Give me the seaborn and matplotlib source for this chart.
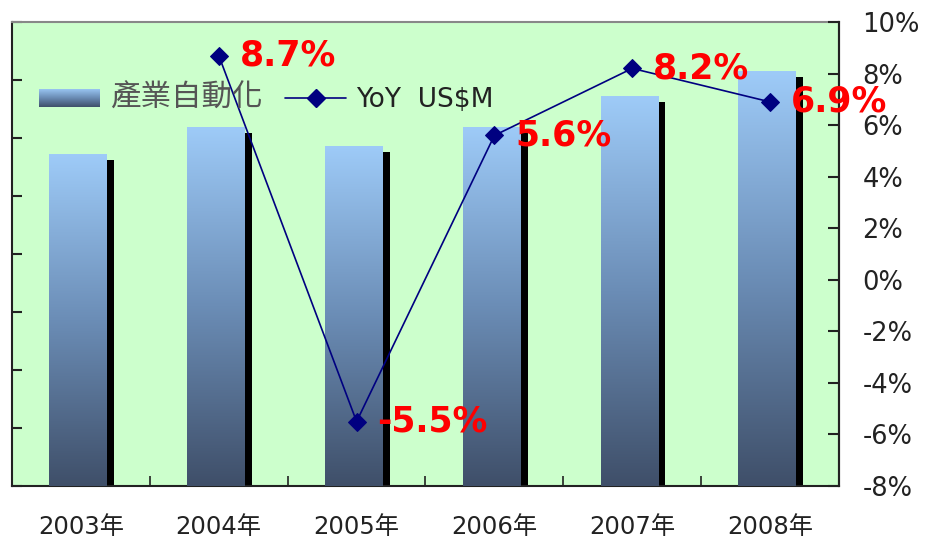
import numpy as np
import pandas as pd
import matplotlib
matplotlib.use("Agg")
import matplotlib.pyplot as plt
import matplotlib.transforms as mtransforms
from matplotlib.colors import LinearSegmentedColormap
from matplotlib.patches import Rectangle
from matplotlib.lines import Line2D
import seaborn as sns

# Industrial automation market size (US$M) and year-over-year growth (%)
years = ["2003年", "2004年", "2005年", "2006年", "2007年", "2008年"]
sales = [5720, 6190, 5870, 6190, 6720, 7150]
yoy_years = ["2004年", "2005年", "2006年", "2007年", "2008年"]
yoy = [8.7, -5.5, 5.6, 8.2, 6.9]
pct_ticks = [-8, -6, -4, -2, 0, 2, 4, 6, 8, 10]
bar_label = "產業自動化"
line_label = "YoY  US$M"

sns.set_style("ticks")
FONT = ["DejaVu Sans", "Noto Sans CJK TC"]
plt.rcParams["font.family"] = FONT

BG = "#ccffcc"
NAVY = "#000080"
grad = LinearSegmentedColormap.from_list(
    "bar_grad", ["#3f4f69", "#6b8db6", "#9ecbf8"])

fig = plt.figure(figsize=(9.25, 5.48), dpi=100)
ax = fig.add_axes([12 / 925, 62 / 548, 827 / 925, 464 / 548])
ax.set_facecolor(BG)

df = pd.DataFrame({"year": years, "sales": sales})
sns.barplot(data=df, x="year", y="sales", color="#7a9cc6", width=0.42,
            ax=ax, zorder=3)
ax.set_ylim(0, 8000)
ax.set_xlim(-0.5, len(years) - 0.5)

# Gradient fill clipped to each bar plus a black drop shadow
shadow_tf = mtransforms.offset_copy(ax.transData, fig=fig, x=7, y=-6,
                                    units="dots")
gimg = np.linspace(0, 1, 256).reshape(-1, 1)
for p in ax.patches[:len(years)]:
    p.set_x(p.get_x() - 0.02)
    x0, w, h = p.get_x(), p.get_width(), p.get_height()
    p.set_facecolor("none")
    p.set_edgecolor("none")
    shadow = Rectangle((x0, 0), w, h, facecolor="black", edgecolor="none",
                       transform=shadow_tf, zorder=2)
    ax.add_patch(shadow)
    im = ax.imshow(gimg, cmap=grad, origin="lower", aspect="auto",
                   extent=(x0, x0 + w, 0, h), zorder=3)
    im.set_clip_path(p)
ax.set_xlim(-0.5, len(years) - 0.5)
ax.set_ylim(0, 8000)

ax.set_xlabel("")
ax.set_ylabel("")
ax.set_yticks(np.arange(0, 8001, 1000))
ax.set_yticklabels([])
ax.tick_params(axis="y", direction="in", length=7, width=1.5, color="#222222")
ax.set_xticks(np.arange(len(years)))
ax.set_xticklabels(years)
ax.set_xticks(np.arange(len(years) - 1) + 0.5, minor=True)
ax.tick_params(axis="x", which="major", length=0, pad=21,
               labelsize=17.5, labelcolor="#222222")
ax.tick_params(axis="x", which="minor", direction="in", length=7,
               width=1.2, color="#222222")
for s in ax.spines.values():
    s.set_color("#222222")
    s.set_linewidth(1.5)
ax.spines["top"].set_color("#888888")

# Growth line on the secondary axis
ax2 = ax.twinx()
ydf = pd.DataFrame({"year": yoy_years, "yoy": yoy})
sns.lineplot(data=ydf, x="year", y="yoy", color=NAVY, marker="D",
             markersize=9, markeredgecolor=NAVY, linewidth=1.2, ax=ax2,
             zorder=5)
ax2.set_ylim(-8, 10)
ax2.set_yticks(pct_ticks)
ax2.set_yticklabels([f"{t}%" for t in pct_ticks])
ax2.set_ylabel("")
ax2.tick_params(axis="y", direction="in", length=8, width=1.5,
                color="#222222", pad=17, labelsize=18.5, labelcolor="#222222")
for s in ax2.spines.values():
    s.set_visible(False)
ax2.spines["right"].set_visible(True)
ax2.spines["right"].set_color("#222222")
ax2.spines["right"].set_linewidth(1.5)

for yr, v in zip(yoy_years, yoy):
    ax2.annotate(f"{v:.1f}%", (yr, v), xytext=(15, 0),
                 textcoords="offset points", ha="left", va="center",
                 color="#ff0000", fontsize=25, fontweight="bold", zorder=6,
                 annotation_clip=False)

handles = [
    Rectangle((0, 0), 1, 1, facecolor="#7a9cc6", edgecolor="none"),
    Line2D([], [], color=NAVY, marker="D", markersize=9, linewidth=1.2),
]
leg = ax2.legend(handles, [bar_label, line_label], ncol=2, frameon=False,
                 loc="center left", bbox_to_anchor=(0.004, 0.835),
                 fontsize=19, handlelength=2.3, handleheight=0.7,
                 columnspacing=0.85, handletextpad=0.4)
texts = leg.get_texts()
texts[0].set_fontsize(22)
texts[0].set_color("#555555")
texts[1].set_color("#222222")

# Gradient swatch for the bar legend entry
fig.canvas.draw()
bb = leg.legend_handles[0].get_window_extent().transformed(
    fig.transFigure.inverted())
sw = fig.add_axes([bb.x0, bb.y0, bb.width, bb.height], zorder=10)
sw.imshow(gimg, cmap=grad, origin="lower", aspect="auto")
sw.set_axis_off()

fig.savefig("out.png", dpi=100, facecolor="white")
